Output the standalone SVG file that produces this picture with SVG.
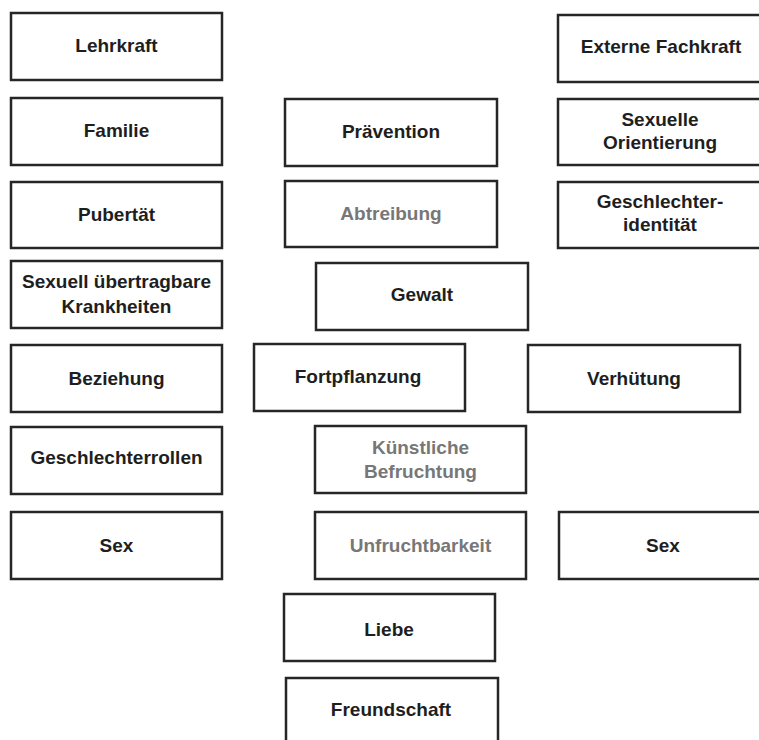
<svg xmlns="http://www.w3.org/2000/svg" width="759" height="740" viewBox="0 0 759 740">
<style>
rect.b{fill:#fff;stroke:#262626;stroke-width:2.5}
text{font-family:"Liberation Sans",Arial,sans-serif;font-weight:bold;font-size:19px;text-anchor:middle;fill:#1e1e1e}
text.g{fill:#777}
</style>
<rect width="759" height="740" fill="#fff"/>
<g id="lehrkraft"><rect class="b" x="11" y="13" width="211" height="67"/><text x="116.5" y="52">Lehrkraft</text></g>
<g id="familie"><rect class="b" x="11" y="98" width="211" height="67"/><text x="116.5" y="137">Familie</text></g>
<g id="pubertaet"><rect class="b" x="11" y="182" width="211" height="66"/><text x="116.5" y="221">Pubertät</text></g>
<g id="sti"><rect class="b" x="11" y="261" width="211" height="67"/><text x="116.5" y="288">Sexuell übertragbare</text><text x="116.5" y="313">Krankheiten</text></g>
<g id="beziehung"><rect class="b" x="11" y="345" width="211" height="67"/><text x="116.5" y="385">Beziehung</text></g>
<g id="geschlechterrollen"><rect class="b" x="11" y="427" width="211" height="67"/><text x="116.5" y="464">Geschlechterrollen</text></g>
<g id="sex-left"><rect class="b" x="11" y="512" width="211" height="67"/><text x="116.5" y="552">Sex</text></g>
<g id="praevention"><rect class="b" x="285" y="99" width="212" height="67"/><text x="391" y="138">Prävention</text></g>
<g id="abtreibung"><rect class="b" x="285" y="181" width="212" height="66"/><text class="g" x="391" y="220">Abtreibung</text></g>
<g id="gewalt"><rect class="b" x="316" y="263" width="212" height="67"/><text x="422" y="301">Gewalt</text></g>
<g id="fortpflanzung"><rect class="b" x="254" y="344" width="211" height="67"/><text x="358" y="383">Fortpflanzung</text></g>
<g id="kuenstliche-befruchtung"><rect class="b" x="315" y="426" width="211" height="67"/><text class="g" x="420.5" y="454">Künstliche</text><text class="g" x="420.5" y="478">Befruchtung</text></g>
<g id="unfruchtbarkeit"><rect class="b" x="315" y="512" width="211" height="67"/><text class="g" x="420.5" y="552">Unfruchtbarkeit</text></g>
<g id="liebe"><rect class="b" x="284" y="594" width="211" height="67"/><text x="389" y="636">Liebe</text></g>
<g id="freundschaft"><rect class="b" x="286" y="678" width="212" height="70"/><text x="391" y="716">Freundschaft</text></g>
<g id="externe-fachkraft"><rect class="b" x="558" y="15" width="212" height="67"/><text x="661" y="53">Externe Fachkraft</text></g>
<g id="sexuelle-orientierung"><rect class="b" x="558" y="99" width="212" height="66"/><text x="660" y="126">Sexuelle</text><text x="660" y="149">Orientierung</text></g>
<g id="geschlechteridentitaet"><rect class="b" x="558" y="182" width="212" height="66"/><text x="660" y="208">Geschlechter-</text><text x="660" y="231">identität</text></g>
<g id="verhuetung"><rect class="b" x="528" y="345" width="212" height="67"/><text x="634" y="385">Verhütung</text></g>
<g id="sex-right"><rect class="b" x="559" y="512" width="212" height="67"/><text x="663" y="552">Sex</text></g>
<g id="connectors"></g>
</svg>
